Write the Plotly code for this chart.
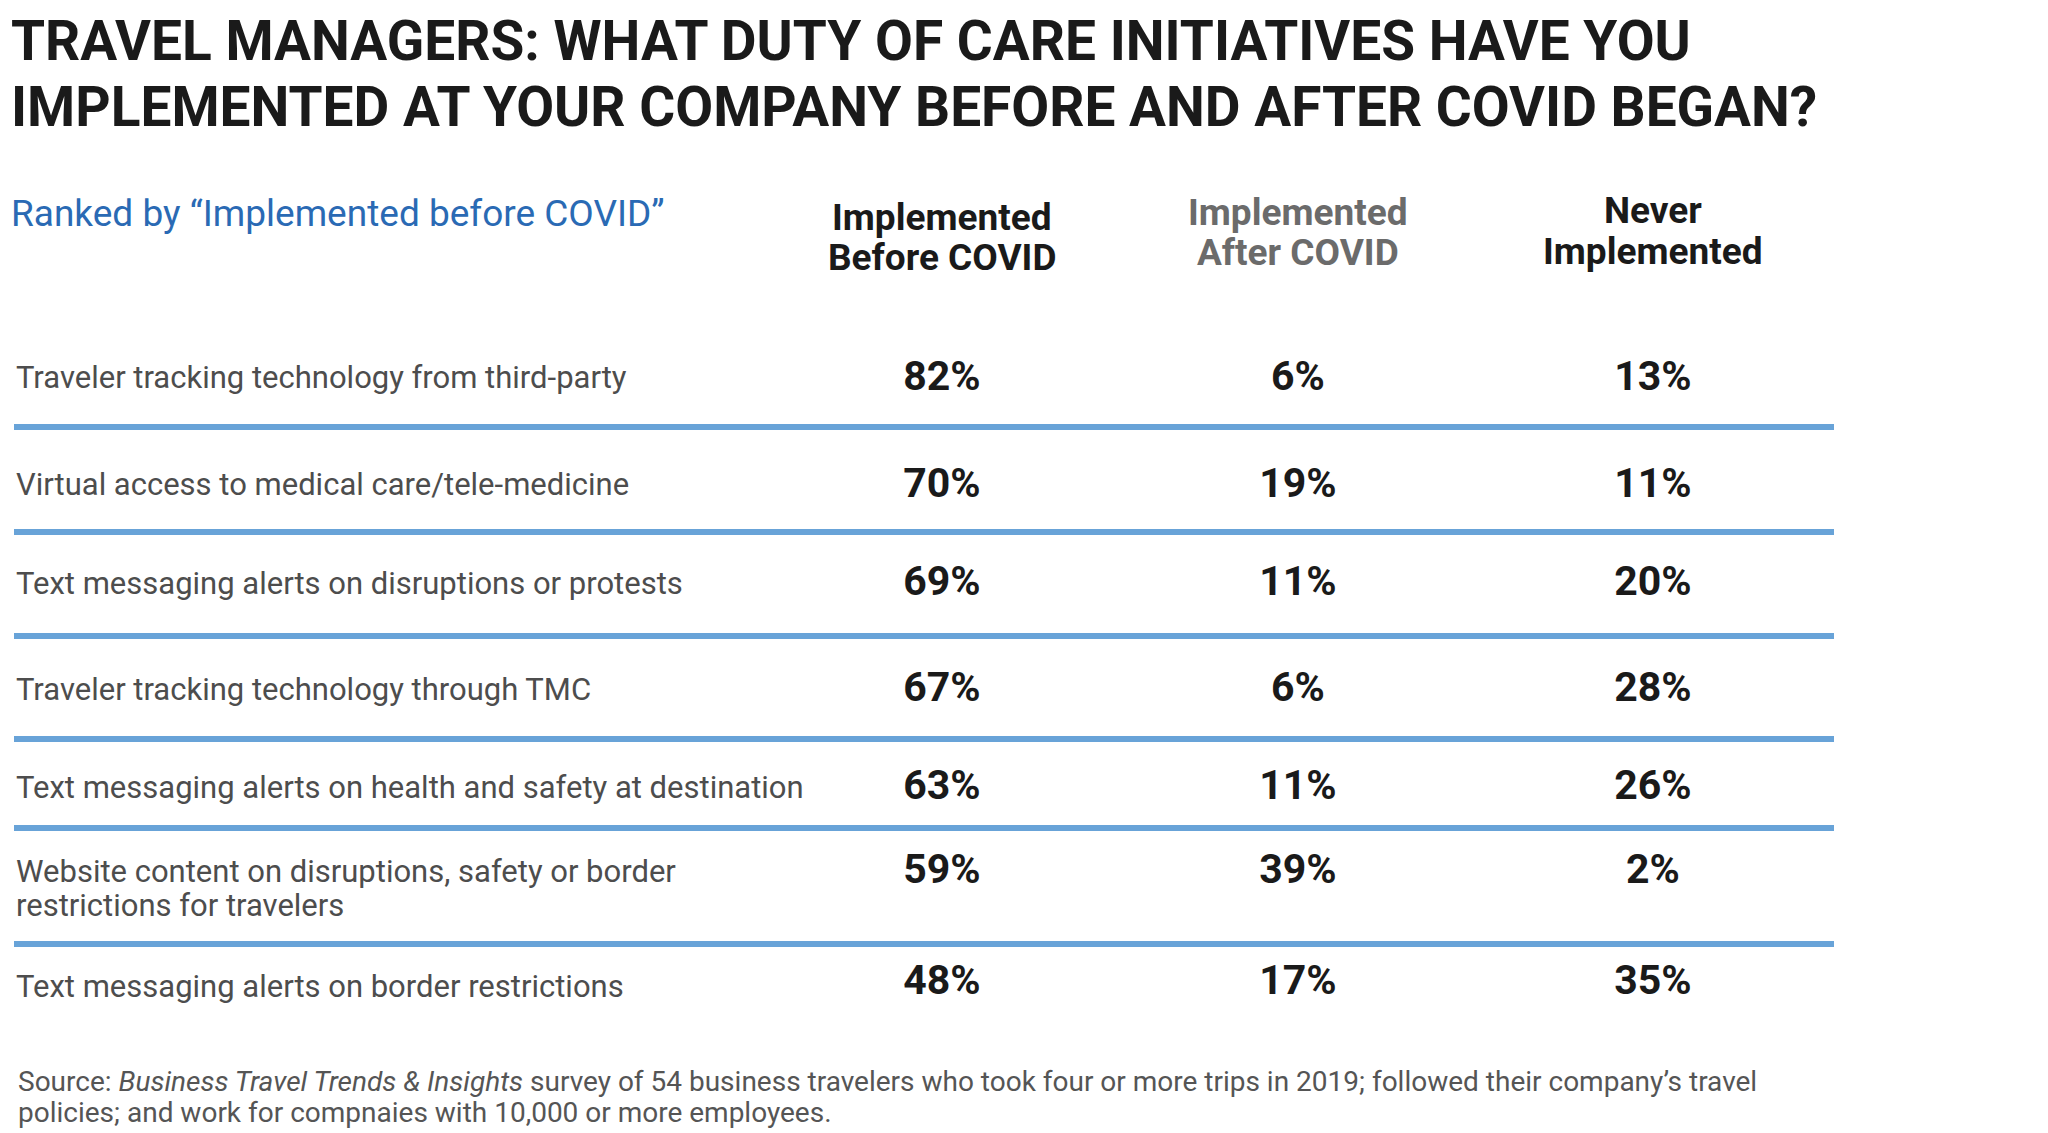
import plotly.graph_objects as go

# ---- data ----
title_lines = ["TRAVEL MANAGERS: WHAT DUTY OF CARE INITIATIVES HAVE YOU",
               "IMPLEMENTED AT YOUR COMPANY BEFORE AND AFTER COVID BEGAN?"]
subtitle = "Ranked by “Implemented before COVID”"
columns = ["Implemented<br>Before COVID", "Implemented<br>After COVID", "Never<br>Implemented"]
initiatives = [
    "Traveler tracking technology from third-party",
    "Virtual access to medical care/tele-medicine",
    "Text messaging alerts on disruptions or protests",
    "Traveler tracking technology through TMC",
    "Text messaging alerts on health and safety at destination",
    "Website content on disruptions, safety or border<br>restrictions for travelers",
    "Text messaging alerts on border restrictions",
]
before_covid = [82, 70, 69, 67, 63, 59, 48]
after_covid = [6, 19, 11, 6, 11, 39, 17]
never_impl = [13, 11, 20, 28, 26, 2, 35]
source_lines = ["Source: <i>Business Travel Trends & Insights</i> survey of 54 business travelers who took four or more trips in 2019; "
                "followed their company’s travel",
                "policies; and work for compnaies with 10,000 or more employees."]

# ---- layout (page pixel positions) ----
W, H = 2048, 1133
OFF = 8  # default page body margin
col_x = [942, 1298, 1653]
col_header_y = [(217, 257), (212, 252), (210, 251)]
col_header_colors = ["#1a1a1a", "#6b6b6b", "#1a1a1a"]
label_y = [380, 487, 586, 692, 790, 891, 989]
label_line_gap = 34
value_y = [380, 487, 585, 691, 789, 873, 984]
sep_y = [427, 532, 636, 739, 828, 944]
title_y = [41, 107]
FONT = "Roboto, sans-serif"

fig = go.Figure()

# row labels (multi-line labels split into separately placed lines)
lx, ly, lt = [], [], []
for lab, cy in zip(initiatives, label_y):
    parts = lab.split("<br>")
    n = len(parts)
    for k, p in enumerate(parts):
        lx.append(16)
        ly.append(cy + (k - (n - 1) / 2) * label_line_gap)
        lt.append(p)
fig.add_trace(go.Scatter(
    x=lx, y=ly, mode="text", text=lt, textposition="middle right",
    textfont=dict(family=FONT, size=31, color="#4d4d4d"),
    hoverinfo="skip", showlegend=False))

# values
for cx, series in zip(col_x, [before_covid, after_covid, never_impl]):
    fig.add_trace(go.Scatter(
        x=[cx] * len(series), y=value_y, mode="text",
        text=[f"{v}%" for v in series], textposition="middle center",
        textfont=dict(family=FONT, size=41, color="#1a1a1a", weight="bold"),
        hoverinfo="skip", showlegend=False))

# column headers
for cx, ys, label, colr in zip(col_x, col_header_y, columns, col_header_colors):
    for part, cy in zip(label.split("<br>"), ys):
        fig.add_annotation(x=cx, y=cy, text=f"<b>{part}</b>", showarrow=False,
                           xanchor="center", yanchor="middle",
                           font=dict(family=FONT, size=37, color=colr))

# title
for line, ty in zip(title_lines, title_y):
    fig.add_annotation(x=9, y=ty, text=f"<b>{line}</b>", showarrow=False,
                       xanchor="left", yanchor="middle",
                       font=dict(family=FONT, size=55, color="#1a1a1a"))

fig.add_annotation(x=9, y=213, text=subtitle, showarrow=False,
                   xanchor="left", yanchor="middle",
                   font=dict(family=FONT, size=37, color="#2a6ab4"))

for i, line in enumerate(source_lines):
    fig.add_annotation(x=16, y=1081 + i * 31, text=line, showarrow=False,
                       xanchor="left", yanchor="middle",
                       font=dict(family=FONT, size=28, color="#555555"))

for sy in sep_y:
    fig.add_shape(type="line", x0=14, x1=1834, y0=sy, y1=sy, xref="x", yref="y",
                  line=dict(color="#68a3d8", width=6))

fig.update_layout(
    width=W, height=H, margin=dict(l=0, r=0, t=0, b=0),
    paper_bgcolor="white", plot_bgcolor="white",
    xaxis=dict(range=[OFF, W + OFF], visible=False, fixedrange=True),
    yaxis=dict(range=[H + OFF, OFF], visible=False, fixedrange=True),
)
fig.write_html("out.html")
